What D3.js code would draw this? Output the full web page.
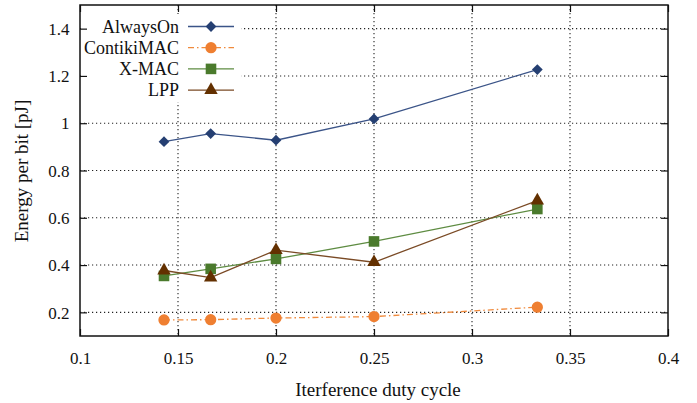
<!DOCTYPE html>
<html>
<head>
<meta charset="utf-8">
<script src="https://cdn.jsdelivr.net/npm/d3@7"></script>
<style>
  html, body { margin: 0; padding: 0; background: #fff; }
  svg text { font-family: "Liberation Serif", "Times New Roman", Times, serif !important; fill: #111; }
</style>
</head>
<body>
<svg id="chart" width="697" height="403"></svg>
<script>
// Interference duty cycles (1/7, 1/6, 1/5, 1/4, 1/3)
const dutyCycle = [1 / 7, 1 / 6, 1 / 5, 1 / 4, 1 / 3];

// Energy per bit [pJ] for each MAC protocol
const alwaysOn   = [0.922, 0.956, 0.928, 1.018, 1.227];
const contikiMAC = [0.168, 0.169, 0.176, 0.182, 0.222];
const xMAC       = [0.354, 0.384, 0.426, 0.500, 0.637];
const lpp        = [0.377, 0.347, 0.463, 0.412, 0.673];

const seriesNames = ["AlwaysOn", "ContikiMAC", "X-MAC", "LPP"];

const xTicks = [0.1, 0.15, 0.2, 0.25, 0.3, 0.35, 0.4];
const yTicks = [0.2, 0.4, 0.6, 0.8, 1, 1.2, 1.4];

const series = [
  { name: seriesNames[0], values: alwaysOn,   line: "#3b5488", fill: "#253f72", symbol: d3.symbolSquare,   size: 58,  dash: null, rot: 45 },
  { name: seriesNames[1], values: contikiMAC, line: "#f08a3c", fill: "#ef7f31", symbol: d3.symbolCircle,   size: 100, dash: "6,3,1.5,3", rot: 0 },
  { name: seriesNames[2], values: xMAC,       line: "#5e8c42", fill: "#4a7a2c", symbol: d3.symbolSquare,   size: 112, dash: null, rot: 0 },
  { name: seriesNames[3], values: lpp,        line: "#7a4a25", fill: "#633000", symbol: d3.symbolTriangle, size: 78,  dash: null, rot: 0 }
];

const serif = '"Liberation Serif", "Times New Roman", Times, serif';
const svg = d3.select("#chart");
const plotL = 80, plotR = 668, plotT = 5, plotB = 336;

const x = d3.scaleLinear().domain([0.1, 0.4]).range([plotL, plotR]);
const y = d3.scaleLinear().domain([0.1, 1.5]).range([plotB, plotT]);

// Dotted grid
const grid = svg.append("g");
grid.selectAll("line.gx").data(xTicks.slice(1, -1)).join("line")
  .attr("x1", d => x(d)).attr("x2", d => x(d))
  .attr("y1", plotT).attr("y2", plotB)
  .attr("stroke", "#222").attr("stroke-width", 1.1).attr("stroke-dasharray", "1.2,2.8");
grid.selectAll("line.gy").data(yTicks).join("line")
  .attr("x1", plotL).attr("x2", plotR)
  .attr("y1", d => y(d)).attr("y2", d => y(d))
  .attr("stroke", "#222").attr("stroke-width", 1.1).attr("stroke-dasharray", "1.2,2.8");

// Legend background blanks the grid behind it
svg.append("rect").attr("x", plotL + 1).attr("y", 14).attr("width", 160).attr("height", 88).attr("fill", "#fff");

// Axes with inward ticks on all four sides
const tickLen = 7;
const axB = svg.append("g").attr("transform", `translate(0,${plotB})`)
  .call(d3.axisBottom(x).tickValues(xTicks).tickSize(-tickLen).tickFormat(d3.format("")));
const axT = svg.append("g").attr("transform", `translate(0,${plotT})`)
  .call(d3.axisTop(x).tickValues(xTicks).tickSize(-tickLen).tickFormat(""));
const axL = svg.append("g").attr("transform", `translate(${plotL},0)`)
  .call(d3.axisLeft(y).tickValues(yTicks).tickSize(-tickLen).tickFormat(d3.format("")));
const axR = svg.append("g").attr("transform", `translate(${plotR},0)`)
  .call(d3.axisRight(y).tickValues(yTicks).tickSize(-tickLen).tickFormat(""));
[axB, axT, axL, axR].forEach(a => {
  a.attr("font-family", serif).attr("font-size", 17);
  a.select(".domain").remove();
  a.selectAll(".tick line").attr("stroke", "#111").attr("stroke-width", 1.2);
  a.selectAll(".tick text").style("font-family", serif).style("font-size", "17px").attr("fill", "#111");
});
axB.selectAll(".tick text").attr("y", 28).attr("dy", "0");
axL.selectAll(".tick text").attr("x", -10.5).attr("dy", "0.34em");

// Plot frame
svg.append("rect").attr("x", plotL).attr("y", plotT).attr("width", plotR - plotL).attr("height", plotB - plotT)
  .attr("fill", "none").attr("stroke", "#111").attr("stroke-width", 1.5);

// Series lines and markers
const line = d3.line().x((d, i) => x(dutyCycle[i])).y(d => y(d));
series.forEach(s => {
  const g = svg.append("g");
  g.append("path").datum(s.values).attr("d", line)
    .attr("fill", "none").attr("stroke", s.line).attr("stroke-width", 1.3)
    .attr("stroke-dasharray", s.dash);
  g.selectAll("path.m").data(s.values).join("path")
    .attr("d", d3.symbol().type(s.symbol).size(s.size))
    .attr("transform", (d, i) => `translate(${x(dutyCycle[i])},${y(d)}) rotate(${s.rot})`)
    .attr("fill", s.fill);
});

// Legend
const legend = svg.append("g");
series.forEach((s, i) => {
  const ly = 26.5 + i * 21.2;
  legend.append("text").attr("x", 179).attr("y", ly).attr("dy", "0.35em")
    .attr("text-anchor", "end").style("font-family", serif).style("font-size", "18px").text(s.name);
  legend.append("line").attr("x1", 188).attr("x2", 234).attr("y1", ly).attr("y2", ly)
    .attr("stroke", s.line).attr("stroke-width", 1.3).attr("stroke-dasharray", s.dash);
  legend.append("path").attr("d", d3.symbol().type(s.symbol).size(s.size))
    .attr("transform", `translate(211,${ly}) rotate(${s.rot})`).attr("fill", s.fill);
});

// Axis titles
svg.append("text").attr("x", 378).attr("y", 396)
  .attr("text-anchor", "middle").style("font-family", serif).style("font-size", "19px").text("Iterference duty cycle");
svg.append("text").attr("transform", `translate(27.5,171) rotate(-90)`)
  .attr("text-anchor", "middle").style("font-family", serif).style("font-size", "19px").text("Energy per bit [pJ]");
</script>
</body>
</html>
